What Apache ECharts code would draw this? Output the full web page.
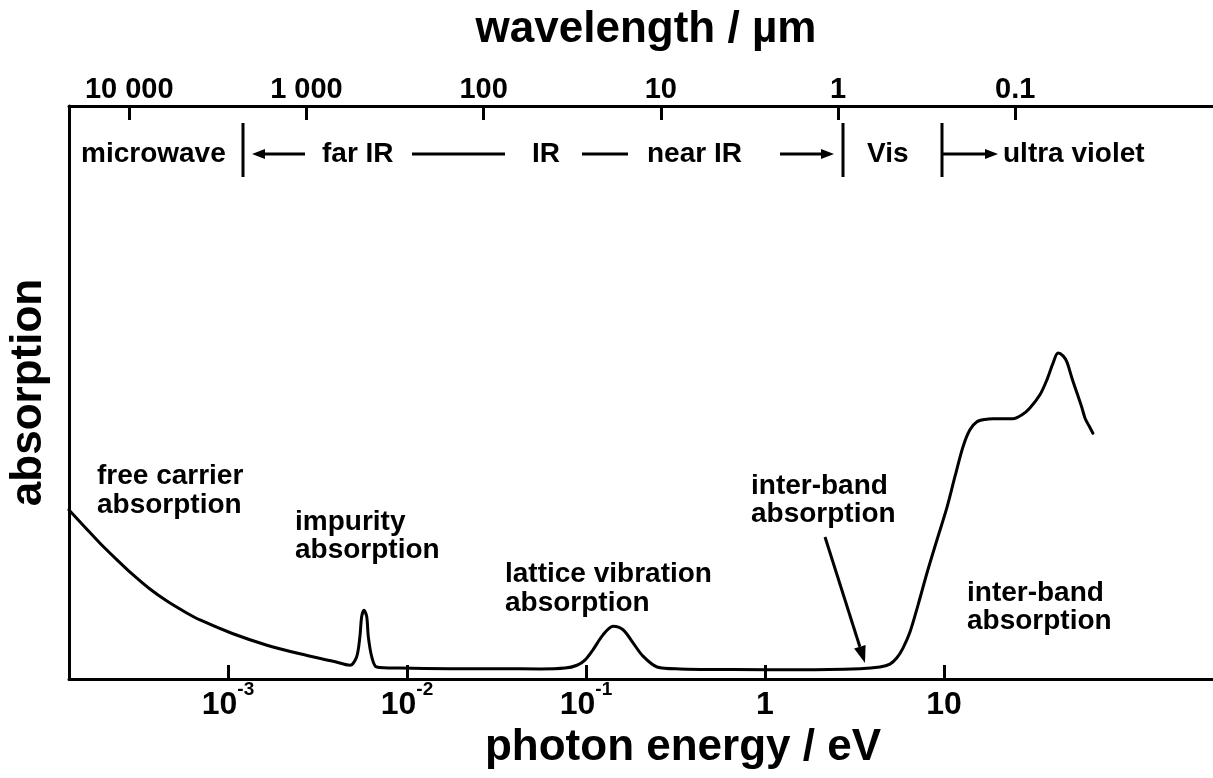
<!DOCTYPE html>
<html>
<head>
<meta charset="utf-8">
<script src="https://cdn.jsdelivr.net/npm/echarts@6/dist/echarts.min.js"></script>
<style>
  html, body { margin: 0; padding: 0; background: #fff; }
  #chart { width: 1213px; height: 778px; }
</style>
</head>
<body>
<div id="chart"></div>
<script>
// Absorption spectrum of a semiconductor versus photon energy (eV).
const energy = [
  1.294e-4, 1.589e-4, 1.928e-4, 2.399e-4, 2.944e-4, 3.664e-4, 4.560e-4, 5.754e-4,
  6.982e-4, 1.067e-3, 1.652e-3, 2.523e-3, 3.864e-3, 4.808e-3,
  5.236e-3, 5.458e-3, 5.585e-3, 5.754e-3, 5.957e-3, 6.081e-3, 6.353e-3, 6.776e-3,
  9.141e-3, 0.01738, 0.03311, 0.05534, 0.07638, 0.08913, 0.09863, 0.1094, 0.1245,
  0.1416, 0.1611, 0.1832, 0.2080, 0.2495, 0.3350, 0.6622, 1.570, 3.396, 4.385,
  4.989, 5.458, 5.902, 6.457, 7.161, 8.035, 9.141, 10.40, 11.51, 12.76, 13.96,
  15.28, 16.94, 18.79, 21.93, 24.27, 27.29, 30.20, 34.36, 37.58, 40.64, 43.35,
  46.24, 48.64, 51.88, 55.34, 59.02, 61.38, 64.57, 67.92
];
const absorption = [
  29.5, 26.5, 23.7, 20.8, 18.2, 15.7, 13.6, 11.7,
  10.3, 7.9, 5.9, 4.4, 3.1, 2.4,
  3.9, 7.4, 10.9, 12.0, 10.9, 7.4, 3.9, 2.1,
  1.9, 1.8, 1.8, 1.75, 1.9, 2.4, 3.3, 5.1, 7.7,
  9.2, 8.6, 6.3, 4.0, 2.1, 1.75, 1.65, 1.6, 1.8, 2.1,
  2.6, 3.7, 5.4, 8.2, 12.9, 18.5, 24.3, 30.0, 35.3, 40.5, 43.5,
  44.9, 45.3, 45.4, 45.4, 45.4, 46.1, 47.3, 49.6, 52.2, 55.1, 56.9,
  56.4, 55.3, 52.5, 49.9, 47.3, 45.5, 44.2, 42.9
];

// Axis tick values
const energyTicks = [1e-3, 1e-2, 1e-1, 1, 10];
const wavelengthTicks = [10000, 1000, 100, 10, 1, 0.1];

// Spectral band names along the top
const bandNames = ['microwave', 'far IR', 'IR', 'near IR', 'Vis', 'ultra violet'];

// Process labels inside the plot
const processNotes = [
  ['free carrier', 'absorption'],
  ['impurity', 'absorption'],
  ['lattice vibration', 'absorption'],
  ['inter-band', 'absorption'],
  ['inter-band', 'absorption']
];

const FONT = "'Liberation Sans', Arial, sans-serif";
const NARROW = "'Liberation Sans Narrow', 'Liberation Sans', Arial, sans-serif";
const BLACK = '#000';

const chart = echarts.init(document.getElementById('chart'), null, { renderer: 'canvas' });

function energyLabel(v) {
  const e = Math.round(Math.log10(v));
  if (e >= 0) return '{b|' + Math.round(v) + '}';
  return '{b|10}{sup|' + e + '}';
}

function wavelengthLabel(v) {
  const n = Number(v.toPrecision(6));
  if (n >= 1000) return String(Math.round(n)).replace(/\B(?=(\d{3})+(?!\d))/g, ' ');
  return String(n);
}

// Annotation helpers
function txt(text, x, y, size, align) {
  return {
    type: 'text', x: x, y: y, silent: true,
    style: {
      text: text, fill: BLACK, font: 'bold ' + size + 'px ' + FONT,
      align: align || 'left', verticalAlign: 'middle'
    }
  };
}
function seg(x1, y1, x2, y2) {
  return {
    type: 'line', silent: true,
    shape: { x1: x1, y1: y1, x2: x2, y2: y2 },
    style: { stroke: BLACK, lineWidth: 3 }
  };
}
function arrow(x1, y1, x2, y2, headLen, headHalf) {
  const dx = x2 - x1, dy = y2 - y1;
  const len = Math.sqrt(dx * dx + dy * dy);
  const ux = dx / len, uy = dy / len;
  const bx = x2 - ux * headLen, by = y2 - uy * headLen;
  return [
    seg(x1, y1, bx, by),
    {
      type: 'polygon', silent: true,
      shape: { points: [[x2, y2], [bx - uy * headHalf, by + ux * headHalf], [bx + uy * headHalf, by - ux * headHalf]] },
      style: { fill: BLACK }
    }
  ];
}

const BAND_Y = 154;
const graphics = [
  // band dividers
  seg(243, 123, 243, 177),
  seg(843, 123, 843, 177),
  seg(942, 123, 942, 177),
  txt(bandNames[0], 81, BAND_Y, 28),
  ...arrow(305, BAND_Y, 252, BAND_Y, 13, 5),
  txt(bandNames[1], 322, BAND_Y, 28),
  seg(412, BAND_Y, 505, BAND_Y),
  txt(bandNames[2], 532, BAND_Y, 28),
  seg(582, BAND_Y, 628, BAND_Y),
  txt(bandNames[3], 647, BAND_Y, 28),
  ...arrow(780, BAND_Y, 834, BAND_Y, 13, 5),
  txt(bandNames[4], 867, BAND_Y, 28),
  ...arrow(942, BAND_Y, 998, BAND_Y, 13, 5),
  txt(bandNames[5], 1003, BAND_Y, 28),
  // process labels
  txt(processNotes[0][0], 97, 476, 28), txt(processNotes[0][1], 97, 505, 28),
  txt(processNotes[1][0], 295, 522, 28), txt(processNotes[1][1], 295, 550, 28),
  txt(processNotes[2][0], 505, 574, 28), txt(processNotes[2][1], 505, 603, 28),
  txt(processNotes[3][0], 751, 486, 28), txt(processNotes[3][1], 751, 514, 28),
  txt(processNotes[4][0], 967, 593, 28), txt(processNotes[4][1], 967, 621, 28),
  ...arrow(825, 537, 865, 663, 17, 6)
];

const axisLineStyle = { color: BLACK, width: 3 };

const option = {
  animation: false,
  backgroundColor: '#fff',
  grid: { left: 69, right: -10, top: 106, bottom: 99, containLabel: false, outerBoundsMode: 'none' },
  xAxis: [
    {
      type: 'log', logBase: 10, position: 'bottom',
      min: 1.294e-4, max: 362,
      axisLine: { show: true, lineStyle: axisLineStyle },
      axisTick: { show: true, inside: true, length: 14, lineStyle: axisLineStyle, customValues: energyTicks },
      axisLabel: {
        customValues: energyTicks, margin: 1, formatter: energyLabel,
        rich: {
          b: { fontFamily: NARROW, fontWeight: 'bold', fontSize: 32, lineHeight: 50, color: BLACK },
          sup: { fontFamily: NARROW, fontWeight: 'bold', fontSize: 19, lineHeight: 19, verticalAlign: 'top', color: BLACK }
        }
      },
      splitLine: { show: false },
      name: 'photon energy / eV', nameLocation: 'middle', nameGap: 45,
      nameTextStyle: { fontFamily: FONT, fontWeight: 'bold', fontSize: 44, color: BLACK, padding: [0, 0, 0, 74] }
    },
    {
      type: 'log', logBase: 10, position: 'top', inverse: true,
      min: 0.006714, max: 21880,
      axisLine: { show: true, lineStyle: axisLineStyle },
      axisTick: { show: true, inside: true, length: 14, lineStyle: axisLineStyle, customValues: wavelengthTicks },
      axisLabel: {
        customValues: wavelengthTicks, margin: 2, formatter: wavelengthLabel,
        fontFamily: FONT, fontWeight: 'bold', fontSize: 29, color: BLACK
      },
      splitLine: { show: false },
      name: 'wavelength / µm', nameLocation: 'middle', nameGap: 54,
      nameTextStyle: { fontFamily: FONT, fontWeight: 'bold', fontSize: 44, color: BLACK }
    }
  ],
  yAxis: {
    type: 'value', min: 0, max: 100,
    axisLine: { show: true, lineStyle: axisLineStyle },
    axisTick: { show: false }, axisLabel: { show: false }, splitLine: { show: false },
    name: 'absorption', nameLocation: 'middle', nameGap: 18,
    nameTextStyle: { fontFamily: FONT, fontWeight: 'bold', fontSize: 44, color: BLACK }
  },
  series: [{
    type: 'line', xAxisIndex: 0,
    data: energy.map((e, i) => [e, absorption[i]]),
    showSymbol: false, symbol: 'none', smooth: 0.3,
    lineStyle: { color: BLACK, width: 3, cap: 'round', join: 'round' },
    silent: true
  }],
  graphic: graphics
};

chart.setOption(option);
</script>
</body>
</html>
